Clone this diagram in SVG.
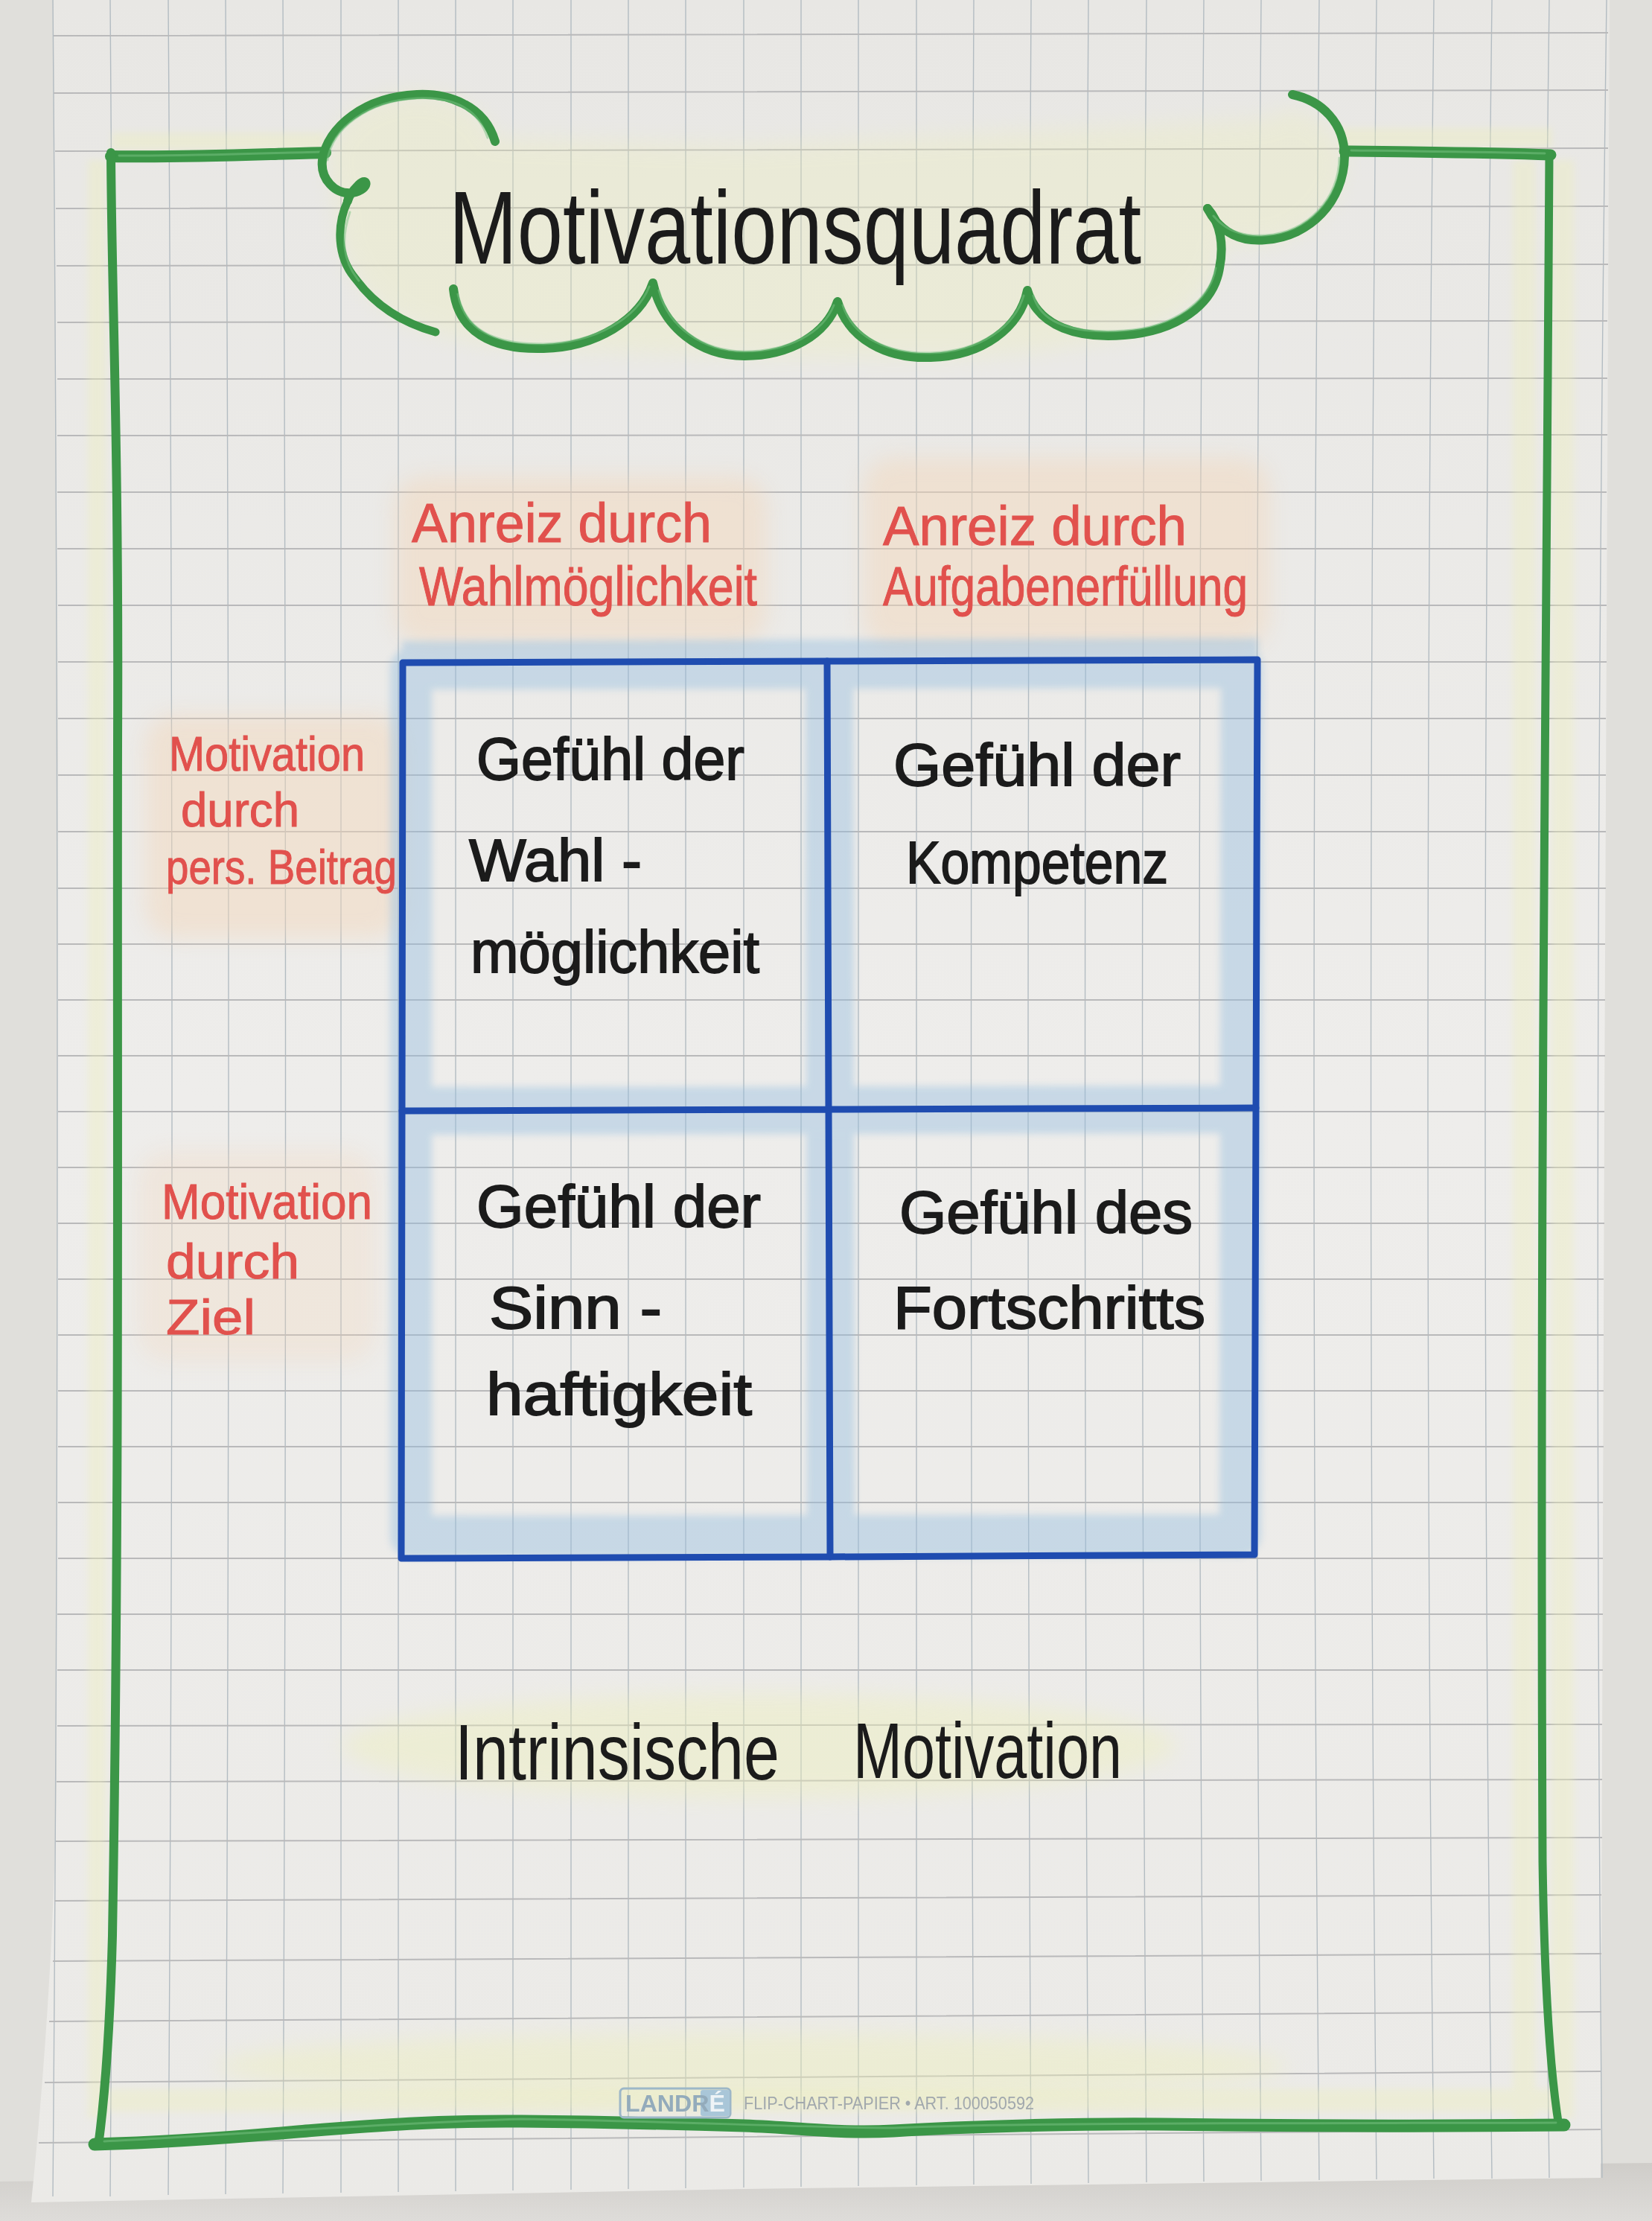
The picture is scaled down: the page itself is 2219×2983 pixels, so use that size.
<svg xmlns="http://www.w3.org/2000/svg" width="2219" height="2983" viewBox="0 0 2219 2983">
<defs>
<style>
.gridh{fill:none;stroke:#b9b9ba;stroke-width:2}
.gridv{fill:none;stroke:#b3bcc2;stroke-width:1.4}
.green{fill:none;stroke:#3b9647;stroke-linecap:round;stroke-linejoin:round}
.greenhi{fill:none;stroke:#7cc485;stroke-linecap:round;stroke-linejoin:round;stroke-width:3;opacity:.5}
.blue{fill:none;stroke:#1f4cb0;stroke-width:9;stroke-linecap:round;stroke-linejoin:round}
.hand{font-family:"Liberation Sans",Arial,sans-serif}
.blk{fill:#1b1b1b;stroke:#1b1b1b;stroke-width:1.8;font-size:80px}
.red{fill:#e1514d;stroke:#e1514d;stroke-width:1;font-size:74px}
.yel{fill:#eef0b8}
.peach{fill:#f3d6b8}
</style>
<filter id="soft" x="-30%" y="-30%" width="160%" height="160%"><feGaussianBlur stdDeviation="14"/></filter>
<filter id="soft2" x="-30%" y="-30%" width="160%" height="160%"><feGaussianBlur stdDeviation="5"/></filter>
<linearGradient id="paperg" x1="0" y1="0" x2="0" y2="1">
<stop offset="0" stop-color="#e8e7e4"/>
<stop offset="0.5" stop-color="#eeedeb"/>
<stop offset="1" stop-color="#ebeae7"/>
</linearGradient>
<linearGradient id="shadowg" x1="0" y1="0" x2="0" y2="1">
<stop offset="0" stop-color="#cfcdc9"/>
<stop offset="1" stop-color="#dedcd9"/>
</linearGradient>
</defs>

<rect width="2219" height="2983" fill="#e0dfdb"/>
<path d="M0,2930 L2219,2905 L2219,2983 L0,2983 Z" fill="url(#shadowg)"/>
<path id="paper" d="M72,0 L2162,0 L2155,1500 L2150,2925 L1000,2940 L42,2958 C58,2800 72,2620 76,2400 L78,1000 Z" fill="url(#paperg)"/>

<g id="grid">
<path class="gridv" d="M71,0 Q83,1470 71,2950 M148,0 Q159,1470 148,2950 M226,0 Q236,1470 226,2948 M303,0 Q311,1470 303,2947 M380,0 Q387,1470 380,2946 M458,0 Q464,1470 458,2945 M535,0 Q540,1470 535,2944 M612,0 Q616,1470 612,2943 M689,0 Q692,1470 689,2942 M767,0 Q768,1470 767,2941 M844,0 Q844,1470 844,2940 M921,0 Q920,1470 921,2939 M999,0 Q997,1470 999,2938 M1076,0 Q1073,1470 1076,2937 M1153,0 Q1148,1470 1153,2936 M1231,0 Q1225,1470 1231,2935 M1308,0 Q1301,1470 1308,2934 M1385,0 Q1377,1470 1385,2933 M1462,0 Q1453,1470 1462,2932 M1540,0 Q1529,1470 1540,2931 M1617,0 Q1605,1470 1617,2930 M1694,0 Q1681,1470 1694,2929 M1772,0 Q1758,1470 1772,2928 M1849,0 Q1834,1470 1849,2927 M1926,0 Q1910,1470 1926,2926 M2004,0 Q1986,1470 2004,2926 M2081,0 Q2062,1470 2081,2925 M2158,0 Q2138,1470 2152,2925"/>
<path class="gridh" d="M72,48 L2160,44 M72,125 L2160,121 M74,203 L2160,199 M75,280 L2160,277 M76,357 L2160,355 M77,433 L2159,431 M77,509 L2159,508 M77,585 L2159,584 M77,661 L2158,661 M77,737 L2158,737 M78,813 L2158,813 M78,889 L2158,889 M78,965 L2157,965 M78,1041 L2157,1041 M78,1117 L2157,1117 M78,1193 L2157,1193 M78,1268 L2156,1268 M78,1343 L2156,1343 M78,1418 L2156,1418 M78,1493 L2155,1493 M78,1568 L2155,1568 M78,1643 L2155,1643 M78,1718 L2154,1718 M78,1793 L2154,1793 M78,1868 L2154,1868 M78,1943 L2154,1943 M78,2018 L2153,2018 M78,2093 L2153,2093 M77,2168 L2153,2168 M77,2243 L2153,2243 M77,2318 L2152,2316 M76,2393 L2152,2390 M75,2473 L2152,2468 M73,2553 L2151,2545 M71,2634 L2151,2624 M66,2715 L2151,2702 M60,2797 L2150,2782 M52,2878 L2150,2860"/>
</g>

<g id="highlights">
<g filter="url(#soft)" opacity="0.3">
<path class="yel" d="M440,215 C445,160 490,128 560,125 C610,125 650,150 665,185 L1000,195 L1700,160 C1740,130 1800,165 1806,215 C1806,270 1760,320 1700,328 L1640,330 C1640,380 1600,430 1510,452 C1430,470 1330,482 1250,482 L1000,480 L730,470 C650,465 580,450 540,430 C480,400 455,340 452,290 Z"/>
</g>
<g filter="url(#soft2)" opacity="0.35">
<rect class="yel" x="118" y="215" width="24" height="2630"/>
<rect class="yel" x="150" y="178" width="285" height="24"/>
<rect class="yel" x="1800" y="172" width="285" height="26"/>
<rect class="yel" x="2032" y="215" width="30" height="2630"/>
<rect class="yel" x="2084" y="215" width="30" height="2630"/>
<rect class="yel" x="145" y="2806" width="1940" height="30"/>
</g>
<g filter="url(#soft)" opacity="0.4">
<ellipse class="yel" cx="1010" cy="2775" rx="720" ry="45"/>
<ellipse class="yel" cx="1020" cy="2345" rx="560" ry="70"/>
</g>
<g filter="url(#soft)" opacity="0.45">
<rect class="peach" x="530" y="640" width="500" height="225" rx="40"/>
<rect class="peach" x="1160" y="615" width="545" height="255" rx="40"/>
<rect class="peach" x="195" y="960" width="345" height="300" rx="40"/>
<rect class="peach" x="185" y="1545" width="320" height="285" rx="40" opacity="0.6"/>
</g>
<g opacity="0.42" filter="url(#soft2)">
<path d="M552,898 L1668,896 L1666,2062 L552,2064 Z" fill="none" stroke="#93bde0" stroke-width="56" stroke-linejoin="round"/>
<path d="M1114,898 L1116,2062 M552,1492 L1668,1490" fill="none" stroke="#93bde0" stroke-width="64"/>
<path d="M540,872 L1690,868" fill="none" stroke="#93bde0" stroke-width="22"/>
</g>
</g>

<g id="frame">
<path class="green" stroke-width="16" d="M149,210 C250,212 350,207 437,205"/>
<path class="green" stroke-width="15" d="M1806,203 C1900,204 2000,205 2083,208"/>
<path class="green" stroke-width="12" d="M149,205 C150,400 160,600 158,1000 C157,1500 161,2000 151,2600 C147,2750 139,2830 132,2882"/>
<path class="green" stroke-width="11" d="M2081,207 C2077,900 2068,1600 2072,2500 C2075,2700 2085,2800 2094,2856"/>
<path class="green" stroke-width="17" d="M127,2880 C200,2878 300,2872 400,2863 C500,2855 580,2848 700,2849 C820,2850 900,2852 1000,2855 C1080,2858 1130,2866 1200,2862 C1300,2856 1450,2852 1560,2853 C1700,2855 1900,2856 2101,2854"/>
<path class="greenhi" d="M160,209 C250,210 350,206 430,204 M1815,202 C1900,203 2000,204 2075,206 M140,2876 C300,2868 500,2852 700,2846 C900,2849 1100,2858 1200,2858 C1400,2850 1800,2852 2090,2851"/>
</g>

<g id="title">
<path class="green" stroke-width="12" d="M665,190 C650,140 600,125 560,127 C490,130 440,170 433,215 C430,240 450,262 474,259 C498,254 494,236 482,248 C472,258 468,264 467,270"/>
<path class="green" stroke-width="11" d="M467,270 C452,302 452,345 478,375 C500,405 535,432 585,446"/>
<path class="green" stroke-width="12" d="M609,388 C615,445 660,470 730,468 C800,466 860,430 877,380 C890,440 940,478 1000,478 C1060,478 1110,450 1125,405 C1140,455 1190,482 1250,480 C1320,478 1370,440 1380,390 C1395,440 1450,455 1510,450 C1580,445 1630,410 1638,360 C1644,330 1640,300 1622,280"/>
<path class="green" stroke-width="12" d="M1622,280 C1640,315 1670,325 1700,322 C1760,318 1805,270 1806,210 C1806,165 1775,135 1736,127"/>
<path class="greenhi" d="M655,185 C640,140 600,130 560,132 C495,135 446,172 440,215 M470,285 C458,320 460,350 482,377 M615,395 C625,445 665,462 730,462 C800,460 855,428 872,385 M885,390 C898,440 945,472 1000,472 C1060,472 1105,447 1120,410 M1132,410 C1147,455 1195,475 1250,474 C1318,472 1363,438 1375,397 M1388,397 C1400,440 1452,448 1510,444 C1575,440 1625,405 1633,360 M1630,290 C1648,312 1672,318 1700,316 C1756,312 1798,268 1799,212"/>
<text class="hand" x="603" y="354" font-size="140" fill="#1b1b1b" textLength="930" lengthAdjust="spacingAndGlyphs">Motivationsquadrat</text>
</g>

<g id="grid-box">
<path class="blue" d="M541,890 L1111,888 L1689,886 L1687,1490 L1685,2088 L1112,2091 L539,2093 L540,1492 Z"/>
<path class="blue" d="M1111,888 L1113,1490 L1115,2091 M540,1492 L1113,1490 L1687,1488"/>
</g>

<g id="label-top-left" class="hand red">
<text x="553" y="728" textLength="403" lengthAdjust="spacingAndGlyphs">Anreiz durch</text>
<text x="563" y="813" textLength="454" lengthAdjust="spacingAndGlyphs">Wahlmöglichkeit</text>
</g>
<g id="label-top-right" class="hand red">
<text x="1186" y="732" textLength="408" lengthAdjust="spacingAndGlyphs">Anreiz durch</text>
<text x="1186" y="813" textLength="490" lengthAdjust="spacingAndGlyphs">Aufgabenerfüllung</text>
</g>
<g id="label-left-top" class="hand red" font-size="64" style="font-size:64px">
<text x="227" y="1035" textLength="263" lengthAdjust="spacingAndGlyphs">Motivation</text>
<text x="243" y="1110" textLength="159" lengthAdjust="spacingAndGlyphs">durch</text>
<text x="223" y="1187" textLength="310" lengthAdjust="spacingAndGlyphs">pers. Beitrag</text>
</g>
<g id="label-left-bottom" class="hand red" style="font-size:66px">
<text x="217" y="1637" textLength="283" lengthAdjust="spacingAndGlyphs">Motivation</text>
<text x="223" y="1717" textLength="179" lengthAdjust="spacingAndGlyphs">durch</text>
<text x="223" y="1792" textLength="120" lengthAdjust="spacingAndGlyphs">Ziel</text>
</g>

<g id="cell-top-left" class="hand blk">
<text x="640" y="1047" textLength="360" lengthAdjust="spacingAndGlyphs">Gefühl der</text>
<text x="630" y="1183" textLength="232" lengthAdjust="spacingAndGlyphs">Wahl -</text>
<text x="632" y="1306" textLength="388" lengthAdjust="spacingAndGlyphs">möglichkeit</text>
</g>
<g id="cell-top-right" class="hand blk">
<text x="1200" y="1055" textLength="386" lengthAdjust="spacingAndGlyphs">Gefühl der</text>
<text x="1217" y="1186" textLength="352" lengthAdjust="spacingAndGlyphs">Kompetenz</text>
</g>
<g id="cell-bottom-left" class="hand blk">
<text x="640" y="1648" textLength="382" lengthAdjust="spacingAndGlyphs">Gefühl der</text>
<text x="657" y="1784" textLength="232" lengthAdjust="spacingAndGlyphs">Sinn -</text>
<text x="653" y="1900" textLength="357" lengthAdjust="spacingAndGlyphs">haftigkeit</text>
</g>
<g id="cell-bottom-right" class="hand blk">
<text x="1208" y="1656" textLength="394" lengthAdjust="spacingAndGlyphs">Gefühl des</text>
<text x="1200" y="1784" textLength="419" lengthAdjust="spacingAndGlyphs">Fortschritts</text>
</g>

<g id="bottom-label" class="hand" fill="#1b1b1b" font-size="105">
<text x="611" y="2390" textLength="436" lengthAdjust="spacingAndGlyphs">Intrinsische</text>
<text x="1146" y="2388" textLength="361" lengthAdjust="spacingAndGlyphs">Motivation</text>
</g>

<g id="footer" class="hand">
<rect x="833" y="2805" width="148" height="39" rx="5" fill="none" stroke="#9db7c8" stroke-width="3"/>
<rect x="941" y="2807" width="39" height="35" rx="3" fill="#a9c6d8"/>
<text x="840" y="2836" font-size="32" font-weight="bold" fill="#93abbb" textLength="134" lengthAdjust="spacingAndGlyphs">LANDR<tspan fill="#eef3f6">É</tspan></text>
<text x="999" y="2833" font-size="23" fill="#a1a8ad" textLength="390" lengthAdjust="spacingAndGlyphs">FLIP-CHART-PAPIER • ART. 100050592</text>
</g>

<g id="connectors"></g>
</svg>
